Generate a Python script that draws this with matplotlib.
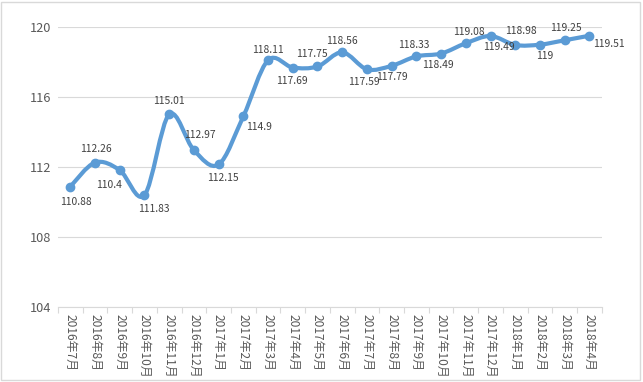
import numpy as np
import matplotlib
matplotlib.use("Agg")
import matplotlib.pyplot as plt
from matplotlib.path import Path
from matplotlib.patches import PathPatch, Rectangle

plt.rcParams["font.family"] = ["Noto Sans CJK SC", "DejaVu Sans"]
plt.rcParams["axes.unicode_minus"] = False

months = ["2016年7月", "2016年8月", "2016年9月", "2016年10月", "2016年11月", "2016年12月",
          "2017年1月", "2017年2月", "2017年3月", "2017年4月", "2017年5月", "2017年6月",
          "2017年7月", "2017年8月", "2017年9月", "2017年10月", "2017年11月", "2017年12月",
          "2018年1月", "2018年2月", "2018年3月", "2018年4月"]
values = [110.88, 112.26, 111.83, 110.4, 115.01, 112.97, 112.15, 114.9, 118.11, 117.69,
          117.75, 118.56, 117.59, 117.79, 118.33, 118.49, 119.08, 119.49, 118.98, 119.0,
          119.25, 119.51]
value_labels = ["110.88", "112.26", "110.4", "111.83", "115.01", "112.97", "112.15", "114.9",
                "118.11", "117.69", "117.75", "118.56", "117.59", "117.79", "118.33", "118.49",
                "119.08", "119.49", "118.98", "119", "119.25", "119.51"]
yticks = [104, 108, 112, 116, 120]

# label offsets in points (dx, dy)
label_offsets = [(4, -11), (1, 10), (-8, -11), (7, -10), (0, 10), (4, 11), (3, -10), (11, -8),
                 (0, 7), (-1, -10), (-4, 9), (0, 8), (-2, -9), (0, -8), (-2, 8), (-2, -8),
                 (2, 8), (6, -8), (4, 10), (3, -8), (1, 9), (14, -6)]

line_col = "#5B9BD5"
grid_col = "#D9D9D9"
text_col = "#595959"

fig = plt.figure(figsize=(6.43, 3.82), dpi=100)
ax = fig.add_axes([0.090, 0.196, 0.846, 0.733])

x = np.arange(len(values))
y = np.array(values)

# smoothed line drawn as cubic bezier through the points (Catmull-Rom style)
verts = [(x[0], y[0])]
codes = [Path.MOVETO]
n = len(x)
for i in range(n - 1):
    p0 = (x[max(i - 1, 0)], y[max(i - 1, 0)])
    p1 = (x[i], y[i])
    p2 = (x[i + 1], y[i + 1])
    p3 = (x[min(i + 2, n - 1)], y[min(i + 2, n - 1)])
    c1 = (p1[0] + (p2[0] - p0[0]) / 6, p1[1] + (p2[1] - p0[1]) / 6)
    c2 = (p2[0] - (p3[0] - p1[0]) / 6, p2[1] - (p3[1] - p1[1]) / 6)
    verts += [c1, c2, p2]
    codes += [Path.CURVE4] * 3
ax.add_patch(PathPatch(Path(verts, codes), facecolor="none", edgecolor=line_col,
                       linewidth=3.0, capstyle="round", joinstyle="round", zorder=3))
ax.plot(x, y, linestyle="none", marker="o", markersize=6, color=line_col, zorder=4)

for xi, yi, lab, (dx, dy) in zip(x, y, value_labels, label_offsets):
    ax.annotate(lab, (xi, yi), xytext=(dx, dy), textcoords="offset points",
                ha="center", va="center", fontsize=7.4, color="#404040", zorder=5)

ax.set_xlim(-0.5, n - 0.5)
ax.set_ylim(104, 120)
ax.set_yticks(yticks)
ax.set_yticklabels([str(v) for v in yticks])
ax.grid(axis="y", color=grid_col, linewidth=0.8)
ax.set_axisbelow(True)
for s in ("top", "right", "left"):
    ax.spines[s].set_visible(False)
ax.spines["bottom"].set_color(grid_col)
ax.spines["bottom"].set_linewidth(0.8)

ax.set_xticks(x)
ax.set_xticklabels(months, rotation=-90, fontsize=8.6, color=text_col, va="top", ha="center")
ax.set_xticks(np.arange(-0.5, n, 1.0), minor=True)
ax.tick_params(axis="x", which="major", length=0, pad=5)
ax.tick_params(axis="x", which="minor", length=4, color=grid_col, width=0.8)
ax.tick_params(axis="y", length=0, labelsize=9.2, labelcolor=text_col, pad=5)

fig.add_artist(Rectangle((0.002, 0.004), 0.993, 0.99, transform=fig.transFigure,
                         facecolor="none", edgecolor=grid_col, linewidth=1.0))

fig.savefig("out.png", dpi=100, facecolor="white")
